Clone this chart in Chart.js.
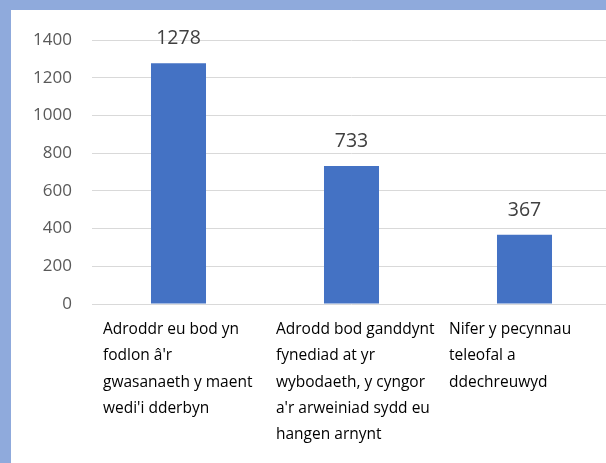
<!DOCTYPE html>
<html>
<head>
<meta charset="utf-8">
<script src="https://cdn.jsdelivr.net/npm/chart.js@4"></script>
<style>
  html, body { margin: 0; padding: 0; }
  body { width: 606px; height: 463px; background: #8faadc; position: relative; overflow: hidden; }
  #panel { position: absolute; left: 11px; top: 10px; width: 595px; height: 453px; background: #ffffff; overflow: hidden; }
  #myChart { display: block; }
</style>
</head>
<body>
<div id="panel"><canvas id="myChart" width="600" height="453"></canvas></div>
<script>
var categories = [
    ['Adroddr eu bod yn', 'fodlon â\'r', 'gwasanaeth y maent', 'wedi\'i dderbyn'],
    ['Adrodd bod ganddynt', 'fynediad at yr', 'wybodaeth, y cyngor', 'a\'r arweiniad sydd eu', 'hangen arnynt'],
    ['Nifer y pecynnau', 'teleofal a', 'ddechreuwyd']
]
var values = [1278, 733, 367]
var yTicks = [0, 200, 400, 600, 800, 1000, 1200, 1400]

var fontName = '"Open Sans", "Noto Sans", sans-serif'

// value labels above the bars
var barLabels = {
    id: 'barLabels',
    afterDatasetsDraw(chart) {
        const ctx = chart.ctx
        const meta = chart.getDatasetMeta(0)
        ctx.save()
        ctx.fillStyle = '#404040'
        ctx.font = '19.5px ' + fontName
        ctx.textAlign = 'center'
        ctx.textBaseline = 'bottom'
        meta.data.forEach((bar, i) => {
            ctx.fillText(values[i], bar.x, bar.y - 15)
        })
        ctx.restore()
    }
}

const ctx = document.getElementById('myChart');
var myBarChart = new Chart(ctx, {
    type: 'bar',
    data: {
        labels: categories,
        datasets: [{
            data: values,
            backgroundColor: '#4472c4',
            borderWidth: 0,
            barPercentage: 0.318,
            categoryPercentage: 1
        }]
    },
    options: {
        responsive: false,
        animation: false,
        layout: { padding: { top: 28, right: 0, bottom: 0, left: 0 } },
        plugins: {
            legend: { display: false },
            tooltip: { enabled: false }
        },
        scales: {
            x: {
                grid: { display: false },
                border: { display: false },
                afterFit: function (scale) {
                    scale.height = 159
                    scale.paddingLeft = 0
                    scale.paddingRight = 0
                },
                ticks: {
                    autoSkip: false,
                    maxRotation: 0,
                    minRotation: 0,
                    align: 'start',
                    labelOffset: -75.5,
                    padding: 5,
                    color: '#000000',
                    font: { family: fontName, size: 15.5, lineHeight: 1.68 }
                }
            },
            y: {
                min: 0,
                max: 1400,
                afterFit: function (scale) { scale.width = 81 },
                afterBuildTicks: function (scale) {
                    scale.ticks = yTicks.map(v => ({ value: v }))
                },
                grid: { color: '#d9d9d9', lineWidth: 1, drawTicks: false },
                border: { display: false },
                ticks: {
                    padding: 20,
                    color: '#595959',
                    font: { family: fontName, size: 17 },
                    callback: function (v) { return String(v) }
                }
            }
        }
    },
    plugins: [barLabels]
});
</script>
</body>
</html>
